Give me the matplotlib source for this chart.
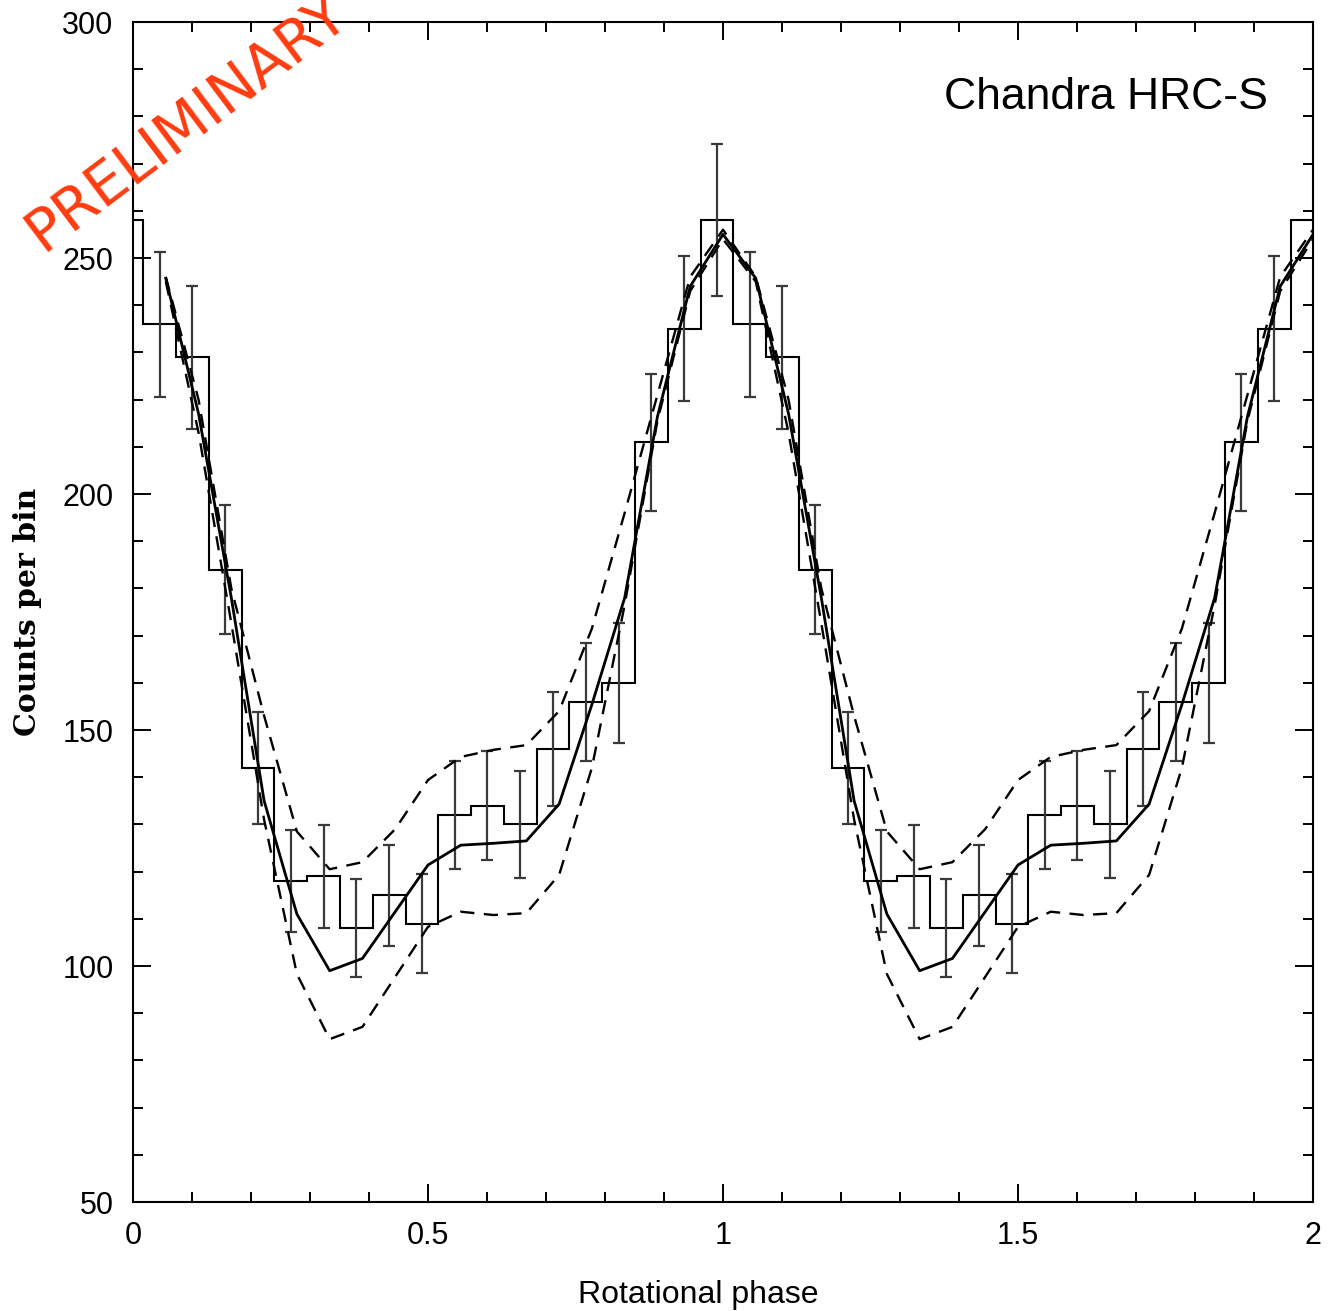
import numpy as np
import matplotlib
matplotlib.use("Agg")
from matplotlib import pyplot as plt
from matplotlib.ticker import MultipleLocator

# counts per bin, 18 bins per rotation (bin edges start at phase 0.0175)
counts = [236, 229, 184, 142, 118, 119, 108, 115, 109,
          132, 134, 130, 146, 156, 160, 211, 235, 258]
bin_offset = 0.0175

# model light curve at phase j/18 (j = 0..17), one rotation
model = [255, 245.7, 217, 178, 135, 111, 99, 101.6, 111.5,
         121.4, 125.6, 126, 126.5, 134.3, 155.4, 178, 216.4, 244]
model_hi = [256, 246, 220, 180, 153, 128.5, 120.5, 122, 129,
            139.4, 144.3, 145.8, 146.8, 154, 171.5, 196, 221, 246]
model_lo = [254, 245, 213, 172.6, 131, 98.3, 84.5, 87.1, 97.7,
            108.3, 111.5, 110.8, 111.2, 119.3, 142, 176.5, 215.5, 243]

nb = len(counts)
fig = plt.figure(figsize=(13.28, 13.11), dpi=100)
ax = fig.add_axes([133 / 1328, 109 / 1311, 1180 / 1328, 1180 / 1311])

# histogram over two rotations (plus the wrapped bin at the left)
edges = bin_offset + np.arange(-1, 2 * nb + 1) / nb
vals = [counts[-1]] + counts + counts
ax.stairs(vals, edges, color="black", lw=1.5, baseline=None)

# Poisson error bars at bin centres
cen = bin_offset + (np.arange(2 * nb - 1) + 0.5) / nb
cnt = np.array(counts + counts[:-1])
ax.errorbar(cen, cnt, yerr=np.sqrt(cnt), fmt="none", ecolor="#3a3a3a",
            elinewidth=1.6, capsize=4.5, capthick=1.6)

# model curves
j = np.arange(1, 2 * nb + 1)
ph = j / nb
def wrap(v):
    return [v[k % nb] for k in j]
ax.plot(ph, wrap(model), color="black", lw=2.0)
ax.plot(ph, wrap(model_hi), color="black", lw=1.7, dashes=(6, 4))
ax.plot(ph, wrap(model_lo), color="black", lw=1.7, dashes=(6, 4))

ax.set_xlim(0, 2)
ax.set_ylim(50, 300)
ax.xaxis.set_minor_locator(MultipleLocator(0.1))
ax.yaxis.set_major_locator(MultipleLocator(50))
ax.yaxis.set_minor_locator(MultipleLocator(10))
ax.set_xticks([0, 0.5, 1, 1.5, 2])
ax.set_xticklabels(["0", "0.5", "1", "1.5", "2"])
ax.tick_params(which="both", direction="in", top=True, right=True, width=1.4)
ax.tick_params(which="major", length=13)
ax.tick_params(which="minor", length=7)
ax.tick_params(axis="y", pad=14)
ax.tick_params(axis="x", pad=14)
for lab in ax.get_xticklabels() + ax.get_yticklabels():
    lab.set_family("Liberation Sans")
    lab.set_fontsize(22)
for s in ax.spines.values():
    s.set_linewidth(1.5)

ax.set_xlabel("Rotational phase", family="Liberation Sans", fontsize=23)
ax.xaxis.set_label_coords(0.479, -0.066)
ax.set_ylabel("Counts per bin", family=["DejaVu Serif", "Liberation Serif"],
              fontweight="bold", fontsize=21.5)
ax.yaxis.set_label_coords(-0.077, 0.5)

ax.text(0.962, 0.936, "Chandra HRC-S", transform=ax.transAxes, ha="right", va="center",
        family="Liberation Sans", fontsize=32)

fig.text(42 / 1328, 1 - 252 / 1311, "PRELIMINARY", color="#ff3c0f", family="DejaVu Sans",
         fontsize=42, rotation=37, rotation_mode="anchor", ha="left", va="baseline")

fig.savefig("out.png", dpi=100)
